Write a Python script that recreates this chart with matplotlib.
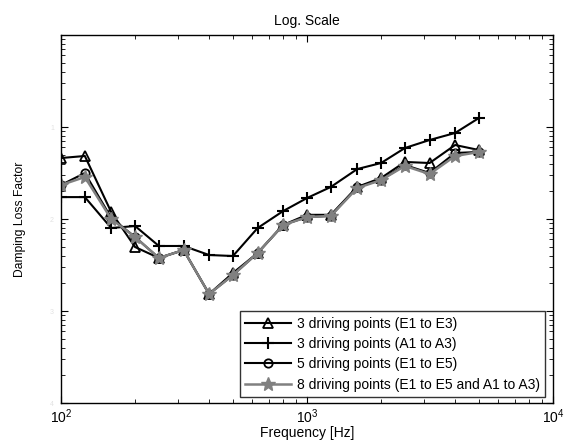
import matplotlib
matplotlib.use('Agg')
import matplotlib.pyplot as plt
from matplotlib.ticker import LogLocator, FixedLocator, NullFormatter

plt.rcParams['font.family'] = ['Liberation Sans', 'DejaVu Sans']

# 1/3 octave band centre frequencies [Hz]
freq = [100, 125, 160, 200, 250, 315, 400, 500, 630, 800,
        1000, 1250, 1600, 2000, 2500, 3150, 4000, 5000]

dlf_e1_e3 = [0.0460, 0.0484, 0.0119, 0.00496, 0.00377, 0.00460, 0.00153, 0.00259, 0.00427,
             0.00861, 0.0111, 0.0111, 0.0223, 0.0279, 0.0417, 0.0406, 0.0637, 0.0562]
dlf_a1_a3 = [0.0173, 0.0173, 0.00798, 0.00839, 0.00509, 0.00509, 0.00406, 0.00396, 0.00798,
             0.0122, 0.0169, 0.0223, 0.0349, 0.0406, 0.0591, 0.0722, 0.0861, 0.1253]
dlf_e1_e5 = [0.0234, 0.0316, 0.0103, 0.00637, 0.00377, 0.00460, 0.00153, 0.00246, 0.00427,
             0.00861, 0.0105, 0.0108, 0.0223, 0.0265, 0.0386, 0.0316, 0.0522, 0.0535]
dlf_all8 = [0.0234, 0.0286, 0.0100, 0.00637, 0.00377, 0.00460, 0.00153, 0.00246, 0.00427,
            0.00861, 0.0105, 0.0108, 0.0217, 0.0265, 0.0377, 0.0308, 0.0484, 0.0535]

labels = ['3 driving points (E1 to E3)', '3 driving points (A1 to A3)',
          '5 driving points (E1 to E5)', '8 driving points (E1 to E5 and A1 to A3)']
ytick_vals = [1e-4, 1e-3, 1e-2, 1e-1]
ytick_text = ['4', '3', '2', '1']

fig = plt.figure(figsize=(5.65, 4.45), dpi=100)
ax = fig.add_axes([61/565, 1-403/445, (553-61)/565, (403-35)/445])

ax.plot(freq, dlf_e1_e3, color='black', lw=1.5, marker='^', ms=7, mfc='none', mew=1.3, label=labels[0])
ax.plot(freq, dlf_a1_a3, color='black', lw=1.5, marker='+', ms=8, mew=1.5, label=labels[1])
ax.plot(freq, dlf_e1_e5, color='black', lw=1.5, marker='o', ms=6, mfc='none', mew=1.3, label=labels[2])
ax.plot(freq, dlf_all8, color='#808080', lw=1.8, marker='*', ms=10, mec='#808080', label=labels[3])

ax.set_xscale('log')
ax.set_yscale('log')
ax.set_xlim(100, 10000)
ax.set_ylim(1e-4, 1)

ax.yaxis.set_major_locator(FixedLocator(ytick_vals))
ax.set_yticklabels(ytick_text, color='#e2e2e2', fontsize=5)
ax.yaxis.set_minor_locator(LogLocator(base=10, subs=range(2, 10)))
ax.yaxis.set_minor_formatter(NullFormatter())
ax.xaxis.set_minor_locator(LogLocator(base=10, subs=range(2, 10)))
ax.xaxis.set_minor_formatter(NullFormatter())

ax.tick_params(which='both', direction='in', top=True, right=True, labelsize=10)
ax.tick_params(which='major', length=5, width=0.8)
ax.tick_params(which='minor', length=3, width=0.6)
ax.tick_params(axis='y', pad=5, labelsize=5)
ax.tick_params(axis='x', pad=3)
for s in ax.spines.values():
    s.set_linewidth(1.0)

ax.set_title('Log. Scale', fontsize=10, pad=7)
ax.set_xlabel('Frequency [Hz]', fontsize=10, labelpad=0)
ax.set_ylabel('Damping Loss Factor', fontsize=8.7, labelpad=17)

leg = ax.legend(loc='lower right', bbox_to_anchor=(0.984, 0.016), borderaxespad=0,
                fontsize=10, frameon=True, fancybox=False, edgecolor='black',
                handlelength=3.3, handletextpad=0.4, labelspacing=0.45, borderpad=0.4)
leg.get_frame().set_linewidth(1.0)

fig.savefig('out.png', dpi=100)
